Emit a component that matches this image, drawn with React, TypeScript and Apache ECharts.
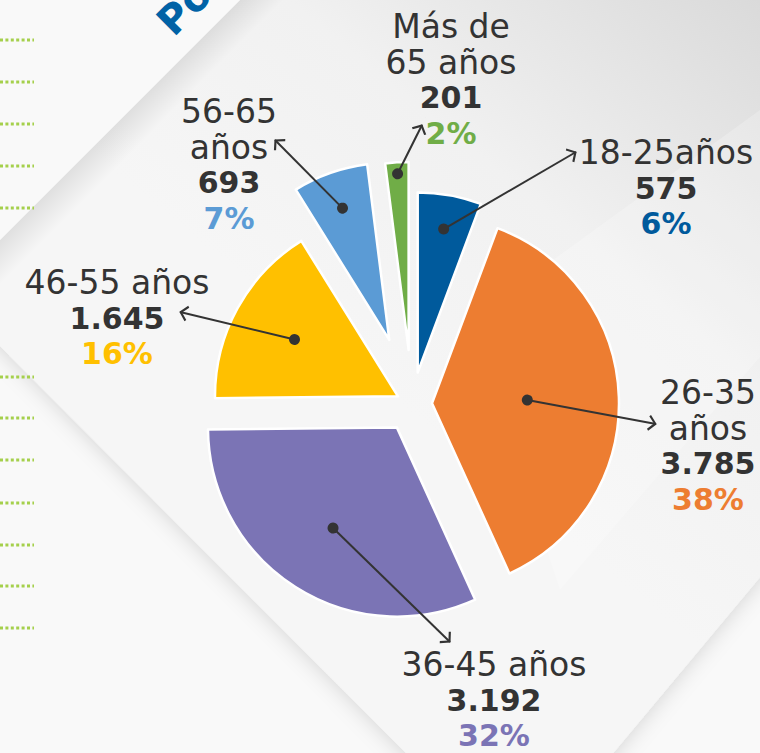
import React, { useEffect, useRef } from 'react';
import * as echarts from 'echarts';

const W = 760;
const H = 753;

// ---------- data ----------
const categories = ['18-25años', '26-35 años', '36-45 años', '46-55 años', '56-65 años', 'Más de 65 años'];
const labelLines = [['18-25años'], ['26-35', 'años'], ['36-45 años'], ['46-55 años'], ['56-65', 'años'], ['Más de', '65 años']];
const values = [575, 3785, 3192, 1645, 693, 201];
const colors = ['#005a9c', '#ed7d31', '#7b74b5', '#ffc000', '#5b9bd5', '#70ad47'];

// ---------- layout (positions / sizes, not data) ----------
const PIE_CENTER = [412, 404];
const sliceOffset = [32, 20, 28, 16, 68, 54];
const sliceRadius = [180, 187, 189, 183, 177, 188];
const dotFraction = [0.81, 0.51, 0.63, 0.645, 0.79, 0.94];
const labelPos = [[666, 135], [708, 375], [494, 647], [117, 265], [229, 94], [451, 9]];
const arrowTip = [[576, 152], [656, 424], [450, 642], [180, 312], [275, 140], [422, 125]];
const dottedRows = [40, 82, 124, 166, 208, 377, 418, 460, 503, 545, 586, 628];

const FONT = 'DejaVu Sans';
const TEXT = '#333333';
const ARROW = 'path://M10 10 L20 20 L18 22 L10 14 L2 22 L0 20 Z M10 0 L10.1 0 L10 0.1 Z';

const fmt = (v: number) => String(v).replace(/\B(?=(\d{3})+(?!\d))/g, '.');

export default function App() {
  const ref = useRef<HTMLDivElement>(null);

  useEffect(() => {
    if (!ref.current) return;
    const chart = echarts.init(ref.current, undefined, { renderer: 'svg' });

    const total = values.reduce((a, b) => a + b, 0);
    let cum = 0;
    const midAngles = values.map((v) => {
      const m = ((cum + v / 2) / total) * 2 * Math.PI;
      cum += v;
      return m;
    });
    const centers = values.map((_, i) => [
      PIE_CENTER[0] + sliceOffset[i] * Math.sin(midAngles[i]),
      PIE_CENTER[1] - sliceOffset[i] * Math.cos(midAngles[i]),
    ]);

    const pieSeries = values.map((_, i) => ({
      type: 'pie',
      name: categories[i],
      silent: true,
      z: 2,
      center: centers[i],
      radius: [0, sliceRadius[i]],
      startAngle: 90,
      clockwise: true,
      avoidLabelOverlap: false,
      emphasis: { disabled: true },
      label: { show: false },
      labelLine: { show: false },
      labelLayout: () => ({ x: labelPos[i][0], y: labelPos[i][1], align: 'center', verticalAlign: 'top' }),
      data: values.map((v, j) =>
        j === i
          ? {
              value: v,
              name: categories[j],
              itemStyle: { color: colors[j], borderColor: '#ffffff', borderWidth: 2.5 },
              label: {
                show: true,
                position: 'outside',
                formatter: (p: any) =>
                  [
                    ...labelLines[j].map((s) => `{n|${s}}`),
                    `{v|${fmt(v)}}`,
                    `{p|${Math.round(p.percent)}%}`,
                  ].join('\n'),
                rich: {
                  n: { fontFamily: FONT, fontSize: 33, lineHeight: 35.5, color: TEXT, align: 'center' },
                  v: { fontFamily: FONT, fontSize: 30, fontWeight: 'bold', lineHeight: 35.5, color: TEXT, align: 'center' },
                  p: { fontFamily: FONT, fontSize: 30, fontWeight: 'bold', lineHeight: 35.5, color: colors[j], align: 'center' },
                },
              },
              labelLine: { show: false },
            }
          : {
              value: v,
              name: categories[j],
              itemStyle: { color: 'rgba(0,0,0,0)', borderWidth: 0 },
              label: { show: false },
              labelLine: { show: false },
            }
      ),
    }));

    const arrowData = values.map((_, i) => {
      const d = dotFraction[i] * sliceRadius[i];
      return {
        coords: [
          [centers[i][0] + d * Math.sin(midAngles[i]), centers[i][1] - d * Math.cos(midAngles[i])],
          arrowTip[i],
        ],
      };
    });

    const panelPts = [[-53, 293], [300, -60], [820, -60], [820, 505], [574, 800], [453, 800]];

    const graphic: any[] = [
      { type: 'rect', silent: true, z: 0, shape: { x: 0, y: 0, width: W, height: H }, style: { fill: '#f9f9f9' } },
      {
        type: 'polygon',
        silent: true,
        z: 0,
        shape: { points: panelPts },
        style: {
          fill: {
            type: 'linear',
            x: 760, y: 0, x2: 420, y2: 420, global: true,
            colorStops: [
              { offset: 0, color: '#dadada' },
              { offset: 0.55, color: '#f1f1f1' },
              { offset: 1, color: '#f6f6f6' },
            ],
          },
          shadowBlur: 22,
          shadowColor: 'rgba(0,0,0,0.16)',
        },
      },
      // soft light stripe across the upper right
      {
        type: 'polygon',
        silent: true,
        z: 0,
        shape: { points: [[760, 110], [470, 320], [560, 590], [760, 357]] },
        style: { fill: 'rgba(255,255,255,0.22)' },
      },
      // shadow inside panel along upper-left edge
      {
        type: 'polygon',
        silent: true,
        z: 0,
        shape: { points: [[0, 240], [240, 0], [300, 0], [0, 300]] },
        style: {
          fill: {
            type: 'linear', x: 120, y: 120, x2: 142, y2: 142, global: true,
            colorStops: [
              { offset: 0, color: 'rgba(0,0,0,0.09)' },
              { offset: 1, color: 'rgba(0,0,0,0)' },
            ],
          },
        },
      },
      // upper-left sheet
      { type: 'polygon', silent: true, z: 0, shape: { points: [[0, 0], [240, 0], [0, 240]] }, style: { fill: '#f9f9f9' } },
      ...dottedRows.map((y) => ({
        type: 'line',
        silent: true,
        z: 0,
        shape: { x1: 0, y1: y, x2: 34, y2: y },
        style: { stroke: '#a5d04c', lineWidth: 3, lineDash: [3, 2.4] },
      })),
      {
        type: 'text',
        silent: true,
        z: 0,
        x: 178,
        y: 42,
        rotation: Math.PI / 4,
        style: { text: 'Por edad', fill: '#0062a6', font: `bold 40px "${FONT}"`, textAlign: 'left', textVerticalAlign: 'bottom' },
      },
    ];

    chart.setOption({
      animation: false,
      backgroundColor: 'transparent',
      grid: { left: 0, right: 0, top: 0, bottom: 0, containLabel: false },
      xAxis: { type: 'value', min: 0, max: W, show: false },
      yAxis: { type: 'value', min: 0, max: H, inverse: true, show: false },
      graphic,
      series: [
        ...pieSeries,
        {
          type: 'lines',
          coordinateSystem: 'cartesian2d',
          silent: true,
          z: 5,
          symbol: ['circle', ARROW],
          symbolSize: [11, 16],
          itemStyle: { color: TEXT },
          lineStyle: { color: TEXT, width: 2, opacity: 1, curveness: 0 },
          data: arrowData,
        },
      ],
    } as any);

    return () => chart.dispose();
  }, []);

  return <div ref={ref} style={{ position: 'absolute', left: 0, top: 0, width: W, height: H }} />;
}
